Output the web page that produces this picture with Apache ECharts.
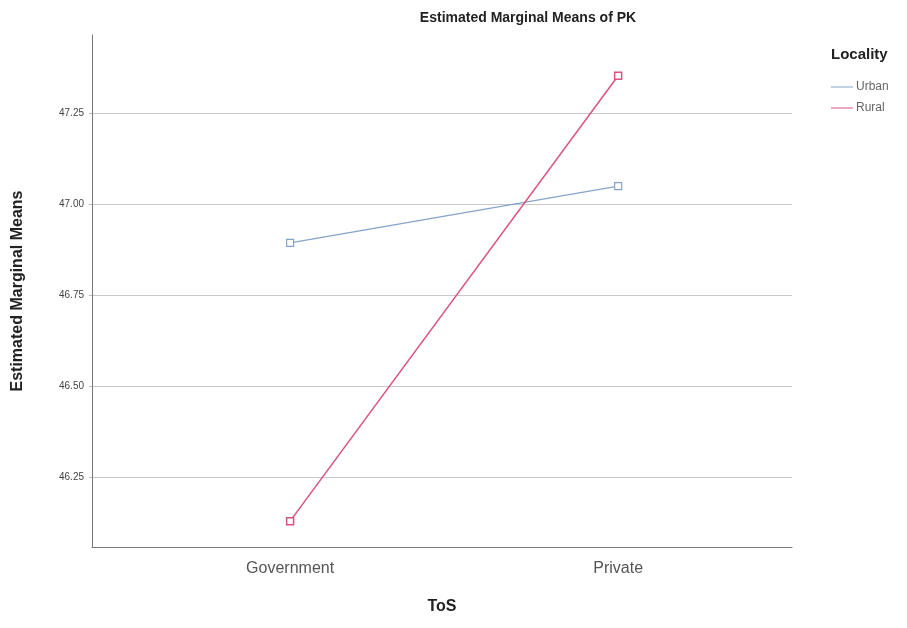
<!DOCTYPE html>
<html><head><meta charset="utf-8">
<script src="https://cdn.jsdelivr.net/npm/echarts@6/dist/echarts.min.js"></script>
<style>html,body{margin:0;padding:0;background:#fff}#c{width:907px;height:628px}</style>
</head><body><div id="c"></div>
<script>
const categories = ['Government', 'Private'];
const urban = [46.893, 47.049];
const rural = [46.129, 47.352];
const yTicks = [46.25, 46.5, 46.75, 47.0, 47.25];
const seriesNames = ['Urban', 'Rural'];
const seriesColors = ['#86a3cb', '#d8547f'];

const FONT = '"Liberation Sans", Arial, sans-serif';
const chart = echarts.init(document.getElementById('c'));
const toPairs = arr => arr.map((v, i) => [i, v]);
chart.setOption({
  animation: false,
  backgroundColor: '#fff',
  title: [
    { text: 'Estimated Marginal Means of PK', left: 523, top: 6, textAlign: 'center',
      textStyle: { fontFamily: FONT, fontSize: 14, fontWeight: 'bold', color: '#222' } },
    { text: 'Locality', left: 826, top: 42,
      textStyle: { fontFamily: FONT, fontSize: 15, fontWeight: 'bold', color: '#222' } }
  ],
  legend: {
    orient: 'vertical', left: 826, top: 76, itemGap: 9,
    itemWidth: 22, itemHeight: 12,
    icon: 'path://M0,5.5 H22 V6.5 H0 Z',
    lineStyle: { width: 0 },
    data: seriesNames.map((n, i) => ({ name: n, itemStyle: { color: seriesColors[i], borderWidth: 0 } })),
    textStyle: { fontFamily: FONT, fontSize: 12, color: '#666', padding: [0, 0, 0, -2] }
  },
  grid: { left: 92, right: 115, top: 35, bottom: 81 },
  xAxis: {
    type: 'value', min: -0.604, max: 1.53,
    name: 'ToS', nameLocation: 'middle', nameGap: 52,
    nameTextStyle: { fontFamily: FONT, fontSize: 16, fontWeight: 'bold', color: '#222' },
    axisLine: { show: true, onZero: false, lineStyle: { color: '#777', width: 1 } },
    axisTick: { show: false },
    splitLine: { show: false },
    axisLabel: { customValues: [0, 1], formatter: v => categories[Math.round(v)] || '',
      fontFamily: FONT, fontSize: 16, color: '#555', margin: 14 }
  },
  yAxis: {
    type: 'value', min: 46.058, max: 47.464,
    name: 'Estimated Marginal Means', nameLocation: 'middle', nameGap: 66,
    nameTextStyle: { fontFamily: FONT, fontSize: 16, fontWeight: 'bold', color: '#222' },
    axisLine: { show: true, onZero: false, lineStyle: { color: '#777', width: 1 } },
    axisTick: { show: true, customValues: yTicks, length: 3, lineStyle: { color: '#bbb' } },
    splitLine: { show: true, lineStyle: { color: '#c8c8c8', width: 1 } },
    axisLabel: { customValues: yTicks, formatter: v => v.toFixed(2),
      fontFamily: FONT, fontSize: 10, color: '#444', margin: 8 }
  },
  series: [
    { name: seriesNames[0], type: 'line', data: toPairs(urban), color: seriesColors[0],
      symbol: 'rect', symbolSize: 7, showSymbol: true,
      lineStyle: { width: 1.2, color: seriesColors[0] },
      itemStyle: { color: '#fff', borderColor: seriesColors[0], borderWidth: 1.2 } },
    { name: seriesNames[1], type: 'line', data: toPairs(rural), color: seriesColors[1],
      symbol: 'rect', symbolSize: 7, showSymbol: true,
      lineStyle: { width: 1.5, color: seriesColors[1] },
      itemStyle: { color: '#fff', borderColor: seriesColors[1], borderWidth: 1.5 } }
  ]
});
</script></body></html>
